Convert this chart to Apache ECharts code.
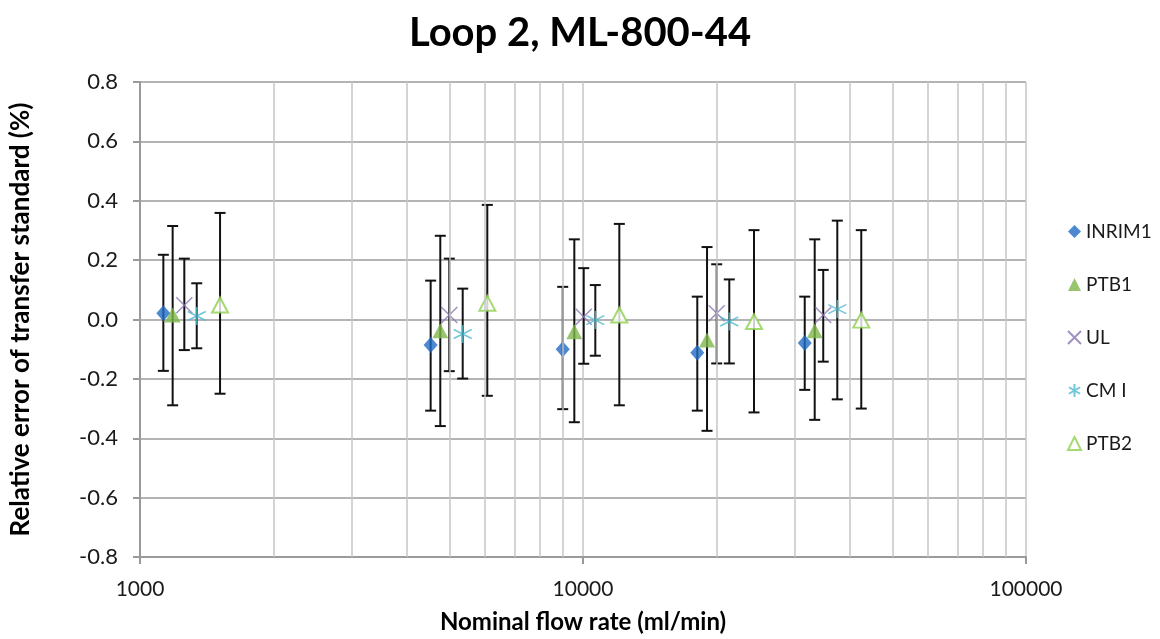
<!DOCTYPE html>
<html>
<head>
<meta charset="utf-8">
<script src="https://cdn.jsdelivr.net/npm/echarts@6/dist/echarts.min.js"></script>
<style>
html,body{margin:0;padding:0;background:#fff;}
#chart{width:1160px;height:639px;}
</style>
</head>
<body>
<div id="chart"></div>
<script>
// ---- data ----
const seriesNames = ['INRIM1', 'PTB1', 'UL', 'CMI', 'PTB2'];
const legendLabels = ['INRIM1', 'PTB1', 'UL', 'CM I', 'PTB2'];

// nominal flow rates (x) of each point, ml/min
const inrimX = [1129, 4530, 9000, 18113, 31660];
const ptb1X  = [1185, 4763, 9559, 19054, 33346];
const ulX    = [1259, 4991, 10037, 20035, 34857];
const cmiX   = [1343, 5351, 10661, 21391, 37500];
const ptb2X  = [1516, 6081, 12078, 24322, 42476];

// relative error (%)
const inrimY = [0.021, -0.086, -0.100, -0.112, -0.079];
const ptb1Y  = [0.015, -0.038, -0.041, -0.069, -0.038];
const ulY    = [0.048, 0.015, 0.009, 0.021, 0.015];
const cmiY   = [0.012, -0.049, -0.002, -0.007, 0.035];
const ptb2Y  = [0.049, 0.055, 0.015, -0.007, -0.002];

// error bar upper / lower ends (%)
const inrimHi = [0.218, 0.131, 0.110, 0.077, 0.077];
const inrimLo = [-0.173, -0.307, -0.302, -0.307, -0.237];
const ptb1Hi  = [0.315, 0.282, 0.270, 0.244, 0.270];
const ptb1Lo  = [-0.289, -0.359, -0.346, -0.375, -0.338];
const ulHi    = [0.205, 0.205, 0.173, 0.186, 0.167];
const ulLo    = [-0.103, -0.174, -0.149, -0.148, -0.142];
const cmiHi   = [0.122, 0.104, 0.116, 0.135, 0.333];
const cmiLo   = [-0.097, -0.199, -0.122, -0.148, -0.269];
const ptb2Hi  = [0.359, 0.386, 0.322, 0.301, 0.301];
const ptb2Lo  = [-0.250, -0.257, -0.289, -0.313, -0.300];

// axis ticks
const xMajorTicks = [1000, 10000, 100000];
const xMinorGrid = [2000, 3000, 4000, 5000, 6000, 7000, 8000, 9000,
                    20000, 30000, 40000, 50000, 60000, 70000, 80000, 90000];
const yMin = -0.8, yMax = 0.8, yStep = 0.2;

// ---- build ----
const FONT = 'Lato, "Open Sans", "Liberation Sans", sans-serif';
const allX  = [inrimX, ptb1X, ulX, cmiX, ptb2X];
const allY  = [inrimY, ptb1Y, ulY, cmiY, ptb2Y];
const allHi = [inrimHi, ptb1Hi, ulHi, cmiHi, ptb2Hi];
const allLo = [inrimLo, ptb1Lo, ulLo, cmiLo, ptb2Lo];

const errData = [];
for (let s = 0; s < allX.length; s++) {
  for (let i = 0; i < allX[s].length; i++) {
    errData.push([allX[s][i], allLo[s][i], allHi[s][i]]);
  }
}

const styles = [
  {symbol: 'diamond', symbolSize: [14, 16], itemStyle: {color: '#1f6cc4'}},
  {symbol: 'triangle', symbolSize: [16, 15], itemStyle: {color: '#7db84a'}},
  {symbol: 'path://M0,0 L10,10 M0,10 L10,0', symbolSize: 16,
   itemStyle: {color: 'rgba(0,0,0,0)', borderColor: '#8a76b2', borderWidth: 1.5}},
  {symbol: 'path://M5,0 L5,10 M0.7,2.5 L9.3,7.5 M0.7,7.5 L9.3,2.5', symbolSize: 18,
   itemStyle: {color: 'rgba(0,0,0,0)', borderColor: '#4fb9d0', borderWidth: 1.6}},
  {symbol: 'triangle', symbolSize: [16, 15],
   itemStyle: {color: '#ffffff', borderColor: '#8fd04f', borderWidth: 2}}
];

const series = [];
// minor vertical grid lines
series.push({
  type: 'scatter', data: [], silent: true, z: 1,
  markLine: {
    silent: true, symbol: ['none', 'none'], animation: false,
    label: {show: false},
    lineStyle: {color: '#c6c6c6', width: 1.5, type: 'solid'},
    data: xMinorGrid.map(v => ({xAxis: v}))
  }
});
// error bars
series.push({
  type: 'custom', z: 2, silent: true,
  data: errData,
  encode: {x: 0, y: [1, 2]},
  renderItem: function (params, api) {
    const x = api.value(0), lo = api.value(1), hi = api.value(2);
    const pHi = api.coord([x, hi]);
    const pLo = api.coord([x, lo]);
    const w = 5.5;
    const st = {stroke: '#111', lineWidth: 2};
    return {
      type: 'group',
      children: [
        {type: 'line', shape: {x1: pHi[0], y1: pHi[1], x2: pLo[0], y2: pLo[1]}, style: st},
        {type: 'line', shape: {x1: pHi[0] - w, y1: pHi[1], x2: pHi[0] + w, y2: pHi[1]}, style: st},
        {type: 'line', shape: {x1: pLo[0] - w, y1: pLo[1], x2: pLo[0] + w, y2: pLo[1]}, style: st}
      ]
    };
  }
});
// markers
for (let s = 0; s < seriesNames.length; s++) {
  series.push(Object.assign({
    name: seriesNames[s], type: 'scatter', z: 3,
    data: allX[s].map((x, i) => [x, allY[s][i]])
  }, styles[s]));
}

const chart = echarts.init(document.getElementById('chart'), null, {renderer: 'canvas'});
chart.setOption({
  animation: false,
  backgroundColor: '#fff',
  title: {
    text: 'Loop 2, ML-800-44', left: 'center', top: 8,
    textStyle: {fontFamily: FONT, fontSize: 40, fontWeight: 'bold', color: '#000'}
  },
  legend: {
    orient: 'vertical', left: 1062, top: 217, itemGap: 34,
    itemWidth: 13, itemHeight: 13,
    data: seriesNames,
    formatter: function (n) { return legendLabels[seriesNames.indexOf(n)]; },
    textStyle: {fontFamily: FONT, fontSize: 19, color: '#1a1a1a'},
    selectedMode: false
  },
  grid: {left: 140, right: 134, top: 82, bottom: 82, containLabel: false, outerBoundsMode: 'none'},
  xAxis: {
    type: 'log', logBase: 10, min: xMajorTicks[0], max: xMajorTicks[xMajorTicks.length - 1],
    name: 'Nominal flow rate (ml/min)', nameLocation: 'middle', nameGap: 53,
    nameTextStyle: {fontFamily: FONT, fontSize: 24, fontWeight: 'bold', color: '#000'},
    axisLine: {show: true, onZero: false, lineStyle: {color: '#9a9a9a', width: 2}},
    axisTick: {show: true, length: 7, lineStyle: {color: '#9a9a9a', width: 2}},
    axisLabel: {
      margin: 22, fontFamily: FONT, fontSize: 21, color: '#1a1a1a',
      formatter: v => String(Math.round(v))
    },
    splitLine: {show: true, lineStyle: {color: '#c6c6c6', width: 1.5}}
  },
  yAxis: {
    type: 'value', min: yMin, max: yMax, interval: yStep,
    name: 'Relative error of transfer standard (%)', nameLocation: 'middle', nameGap: 106,
    nameTextStyle: {fontFamily: FONT, fontSize: 26, fontWeight: 'bold', color: '#000'},
    axisLine: {show: true, lineStyle: {color: '#9a9a9a', width: 2}},
    axisTick: {show: true, length: 7, lineStyle: {color: '#9a9a9a', width: 2}},
    axisLabel: {
      margin: 22, fontFamily: FONT, fontSize: 22, color: '#1a1a1a',
      formatter: v => v.toFixed(1)
    },
    splitLine: {show: true, lineStyle: {color: '#b4b4b4', width: 2}}
  },
  series: series
});
</script>
</body>
</html>
